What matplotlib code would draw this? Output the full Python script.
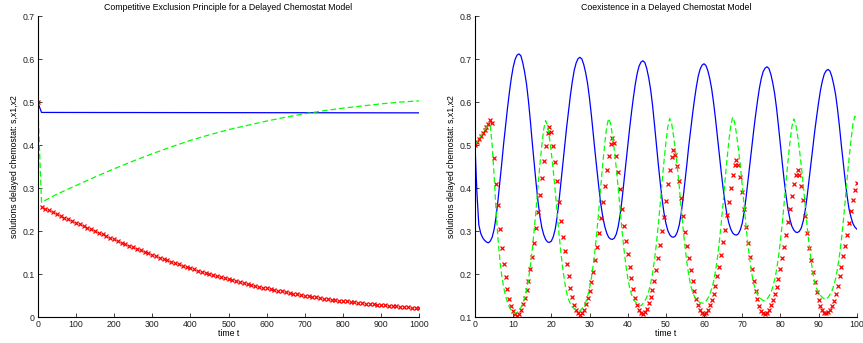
import matplotlib
matplotlib.use('Agg')
import matplotlib.pyplot as plt
import numpy as np

plt.rcParams['font.family'] = ['Liberation Sans', 'DejaVu Sans']

# ---------------- Left panel data (time 0..1000) ----------------
t_left_s = [0, 10, 1000]
s_left = [0.500, 0.476, 0.475]

t_left_x2 = [0, 10, 50, 100, 150, 200, 250, 300, 350, 400, 450, 500,
             550, 600, 650, 700, 750, 800, 850, 900, 950, 1000]
x2_left = [0.500, 0.267, 0.286, 0.306, 0.326, 0.345, 0.363, 0.380, 0.396,
           0.411, 0.424, 0.436, 0.446, 0.456, 0.465, 0.473, 0.480, 0.486,
           0.491, 0.496, 0.500, 0.503]

t_left_x1 = list(range(0, 1001, 10))
x1_left = [0.500,
           0.2570, 0.2527, 0.2484, 0.2442, 0.2400, 0.2359, 0.2318, 0.2278, 0.2239, 0.2200,
           0.2160, 0.2120, 0.2080, 0.2041, 0.2002, 0.1963, 0.1925, 0.1886, 0.1848, 0.1810,
           0.1773, 0.1736, 0.1699, 0.1663, 0.1627, 0.1591, 0.1556, 0.1521, 0.1486, 0.1452,
           0.1418, 0.1385, 0.1352, 0.1320, 0.1288, 0.1257, 0.1227, 0.1197, 0.1168, 0.1140,
           0.1112, 0.1084, 0.1057, 0.1031, 0.1005, 0.0979, 0.0954, 0.0929, 0.0905, 0.0881,
           0.0858, 0.0836, 0.0814, 0.0792, 0.0771, 0.0750, 0.0730, 0.0710, 0.0690, 0.0671,
           0.0653, 0.0635, 0.0617, 0.0600, 0.0583, 0.0566, 0.0550, 0.0535, 0.0520, 0.0505,
           0.0491, 0.0477, 0.0463, 0.0450, 0.0437, 0.0425, 0.0413, 0.0401, 0.0390, 0.0379,
           0.0368, 0.0358, 0.0348, 0.0338, 0.0328, 0.0319, 0.0310, 0.0301, 0.0292, 0.0284,
           0.0276, 0.0268, 0.0260, 0.0252, 0.0245, 0.0238, 0.0231, 0.0224, 0.0217, 0.0210]

# ---------------- Right panel data (time 0..100, step 0.5) ----------------
t_right = np.linspace(0, 100, 201)

s_right = [0.500, 0.390, 0.315, 0.295, 0.285, 0.279, 0.275, 0.273,
           0.277, 0.286, 0.304, 0.332, 0.370, 0.413, 0.457, 0.503, 0.545, 0.585, 0.622, 0.655, 0.681, 0.699, 0.709, 0.712,
           0.708, 0.692, 0.670, 0.642, 0.603, 0.557, 0.506, 0.458, 0.412, 0.370, 0.335, 0.309, 0.292, 0.281, 0.275, 0.274,
           0.277, 0.287, 0.304, 0.332, 0.369, 0.412, 0.455, 0.500, 0.541, 0.579, 0.616, 0.648, 0.674, 0.691, 0.701, 0.704,
           0.700, 0.687, 0.668, 0.643, 0.609, 0.569, 0.524, 0.480, 0.438, 0.397, 0.361, 0.332, 0.311, 0.296, 0.286, 0.282, 0.281,
           0.284, 0.293, 0.310, 0.337, 0.372, 0.414, 0.455, 0.499, 0.538, 0.576, 0.611, 0.642, 0.667, 0.684, 0.693, 0.696,
           0.692, 0.678, 0.657, 0.630, 0.594, 0.550, 0.503, 0.458, 0.415, 0.376, 0.343, 0.319, 0.302, 0.292, 0.287, 0.286,
           0.289, 0.298, 0.314, 0.340, 0.375, 0.415, 0.455, 0.498, 0.536, 0.572, 0.606, 0.636, 0.661, 0.677, 0.686, 0.689,
           0.685, 0.673, 0.655, 0.631, 0.599, 0.562, 0.520, 0.478, 0.438, 0.400, 0.367, 0.339, 0.319, 0.305, 0.296, 0.292, 0.291,
           0.294, 0.303, 0.318, 0.344, 0.377, 0.416, 0.455, 0.496, 0.533, 0.569, 0.602, 0.632, 0.655, 0.671, 0.679, 0.682,
           0.678, 0.665, 0.645, 0.620, 0.586, 0.545, 0.501, 0.459, 0.418, 0.382, 0.351, 0.328, 0.312, 0.303, 0.298, 0.297,
           0.300, 0.308, 0.324, 0.348, 0.380, 0.418, 0.456, 0.496, 0.532, 0.566, 0.598, 0.627, 0.649, 0.665, 0.673, 0.676,
           0.672, 0.659, 0.640, 0.616, 0.582, 0.542, 0.498, 0.457, 0.417, 0.381, 0.351, 0.333, 0.318, 0.310, 0.305]

x1_right = [0.500, 0.507, 0.514, 0.522, 0.529, 0.536, 0.543, 0.550, 0.558, 0.552,
            0.470, 0.410, 0.360, 0.305, 0.262, 0.225, 0.193, 0.165, 0.143, 0.127, 0.115, 0.108, 0.104,
            0.108, 0.117, 0.130, 0.146, 0.163, 0.185, 0.212, 0.240, 0.273, 0.308, 0.345, 0.385, 0.424, 0.464, 0.499, 0.528, 0.543,
            0.530, 0.499, 0.460, 0.416, 0.368, 0.324, 0.287, 0.254, 0.223, 0.195, 0.169, 0.147, 0.129, 0.116, 0.109, 0.105,
            0.109, 0.117, 0.130, 0.144, 0.160, 0.181, 0.206, 0.232, 0.263, 0.296, 0.331, 0.368, 0.405, 0.442, 0.475, 0.502, 0.516,
            0.504, 0.475, 0.438, 0.397, 0.352, 0.312, 0.277, 0.246, 0.217, 0.191, 0.166, 0.146, 0.129, 0.117, 0.110, 0.107,
            0.112, 0.120, 0.133, 0.147, 0.164, 0.185, 0.210, 0.237, 0.267, 0.300, 0.334, 0.371, 0.409, 0.443, 0.472, 0.489,
            0.478, 0.451, 0.416, 0.378, 0.336, 0.298, 0.266, 0.237, 0.210, 0.185, 0.162, 0.143, 0.128, 0.117, 0.110, 0.107,
            0.111, 0.118, 0.129, 0.141, 0.155, 0.173, 0.195, 0.218, 0.245, 0.274, 0.304, 0.337, 0.369, 0.401, 0.430, 0.453, 0.466,
            0.453, 0.427, 0.391, 0.351, 0.310, 0.273, 0.240, 0.212, 0.185, 0.162, 0.142, 0.126, 0.115, 0.110, 0.108,
            0.111, 0.118, 0.128, 0.140, 0.153, 0.170, 0.190, 0.212, 0.237, 0.263, 0.292, 0.322, 0.352, 0.382, 0.409, 0.430, 0.442,
            0.430, 0.405, 0.372, 0.335, 0.297, 0.262, 0.232, 0.206, 0.181, 0.159, 0.141, 0.126, 0.116, 0.111, 0.109,
            0.112, 0.118, 0.127, 0.139, 0.155, 0.173, 0.195, 0.218, 0.242, 0.266, 0.292, 0.320, 0.348, 0.373, 0.396, 0.413]

x2_right = [0.500, 0.507, 0.514, 0.521, 0.528, 0.535, 0.541, 0.547, 0.545, 0.500, 0.430, 0.350, 0.285, 0.235, 0.197, 0.170, 0.150, 0.135, 0.124, 0.116, 0.111, 0.109,
            0.111, 0.116, 0.122, 0.131, 0.145, 0.163, 0.187, 0.219, 0.257, 0.302, 0.351, 0.405, 0.454, 0.499, 0.537, 0.557,
            0.546, 0.517, 0.482, 0.442, 0.395, 0.344, 0.295, 0.251, 0.213, 0.182, 0.157, 0.142, 0.131, 0.124, 0.120, 0.117, 0.115,
            0.115, 0.120, 0.126, 0.135, 0.149, 0.167, 0.192, 0.223, 0.261, 0.306, 0.355, 0.409, 0.459, 0.504, 0.542, 0.562,
            0.551, 0.523, 0.488, 0.448, 0.402, 0.352, 0.304, 0.260, 0.223, 0.193, 0.169, 0.153, 0.142, 0.136, 0.132, 0.128,
            0.127, 0.132, 0.138, 0.147, 0.160, 0.177, 0.201, 0.232, 0.269, 0.313, 0.361, 0.413, 0.461, 0.505, 0.542, 0.562,
            0.551, 0.523, 0.489, 0.450, 0.405, 0.355, 0.308, 0.265, 0.228, 0.198, 0.174, 0.159, 0.148, 0.142, 0.137, 0.134, 0.133,
            0.133, 0.138, 0.144, 0.153, 0.166, 0.183, 0.207, 0.237, 0.274, 0.318, 0.365, 0.417, 0.465, 0.509, 0.545, 0.565,
            0.554, 0.526, 0.492, 0.453, 0.408, 0.359, 0.312, 0.269, 0.233, 0.202, 0.179, 0.164, 0.153, 0.147, 0.142, 0.139,
            0.138, 0.142, 0.149, 0.157, 0.170, 0.187, 0.210, 0.240, 0.276, 0.319, 0.366, 0.416, 0.463, 0.506, 0.542, 0.561,
            0.550, 0.523, 0.489, 0.452, 0.407, 0.359, 0.313, 0.271, 0.235, 0.205, 0.182, 0.167, 0.157, 0.151, 0.146, 0.143,
            0.142, 0.146, 0.153, 0.161, 0.174, 0.191, 0.215, 0.245, 0.281, 0.324, 0.372, 0.423, 0.469, 0.511, 0.548, 0.567, 0.562]

left_xticks = list(range(0, 1001, 100))
left_yticks = [0, 0.1, 0.2, 0.3, 0.4, 0.5, 0.6, 0.7]
left_yticklabels = ['0', '0.1', '0.2', '0.3', '0.4', '0.5', '0.6', '0.7']
right_xticks = list(range(0, 101, 10))
right_yticks = [0.1, 0.2, 0.3, 0.4, 0.5, 0.6, 0.7, 0.8]
right_yticklabels = ['0.1', '0.2', '0.3', '0.4', '0.5', '0.6', '0.7', '0.8']

title_left = 'Competitive Exclusion Principle for a Delayed Chemostat Model'
title_right = 'Coexistence in a Delayed Chemostat Model'
xlabel = 'time t'
ylabel = 'solutions delayed chemostat: s,x1,x2'

FS = 6.3
BLUE = (0, 0, 1)
RED = (1, 0, 0)
GREEN = (0, 1, 0)

fig = plt.figure(figsize=(8.63, 3.43), dpi=100)
ax1 = fig.add_axes([0.0437, 0.0749, 0.4422, 0.8784])
ax2 = fig.add_axes([0.5504, 0.0749, 0.4423, 0.8784])


def style(ax):
    for side in ('top', 'right'):
        ax.spines[side].set_visible(False)
    for side in ('left', 'bottom'):
        ax.spines[side].set_linewidth(0.8)
    ax.tick_params(direction='in', length=3, width=0.6, labelsize=FS, pad=2,
                   colors='#222222')


# Left panel
ax1.plot(t_left_s, s_left, '-', color=BLUE, lw=0.9)
ax1.plot(t_left_x1, x1_left, 'x', color=RED, ms=3.2, mew=0.9)
ax1.plot(t_left_x2, x2_left, color=GREEN, lw=0.9, linestyle=(0, (4.5, 2.4)))
ax1.set_xlim(0, 1000)
ax1.set_ylim(0, 0.7)
ax1.set_xticks(left_xticks)
ax1.set_yticks(left_yticks)
ax1.set_yticklabels(left_yticklabels)
ax1.set_title(title_left, fontsize=FS, pad=4)
ax1.set_xlabel(xlabel, fontsize=FS, labelpad=0)
ax1.set_ylabel(ylabel, fontsize=FS, labelpad=3)
style(ax1)

# Right panel
ax2.plot(t_right, s_right, '-', color=BLUE, lw=0.9)
ax2.plot(t_right, x1_right, 'x', color=RED, ms=3.2, mew=0.9)
ax2.plot(t_right, x2_right, color=GREEN, lw=0.9, linestyle=(0, (4.5, 2.4)))
ax2.set_xlim(0, 100)
ax2.set_ylim(0.1, 0.8)
ax2.set_xticks(right_xticks)
ax2.set_yticks(right_yticks)
ax2.set_yticklabels(right_yticklabels)
ax2.set_title(title_right, fontsize=FS, pad=4)
ax2.set_xlabel(xlabel, fontsize=FS, labelpad=0)
ax2.set_ylabel(ylabel, fontsize=FS, labelpad=3)
style(ax2)

fig.savefig('out.png', dpi=100)
